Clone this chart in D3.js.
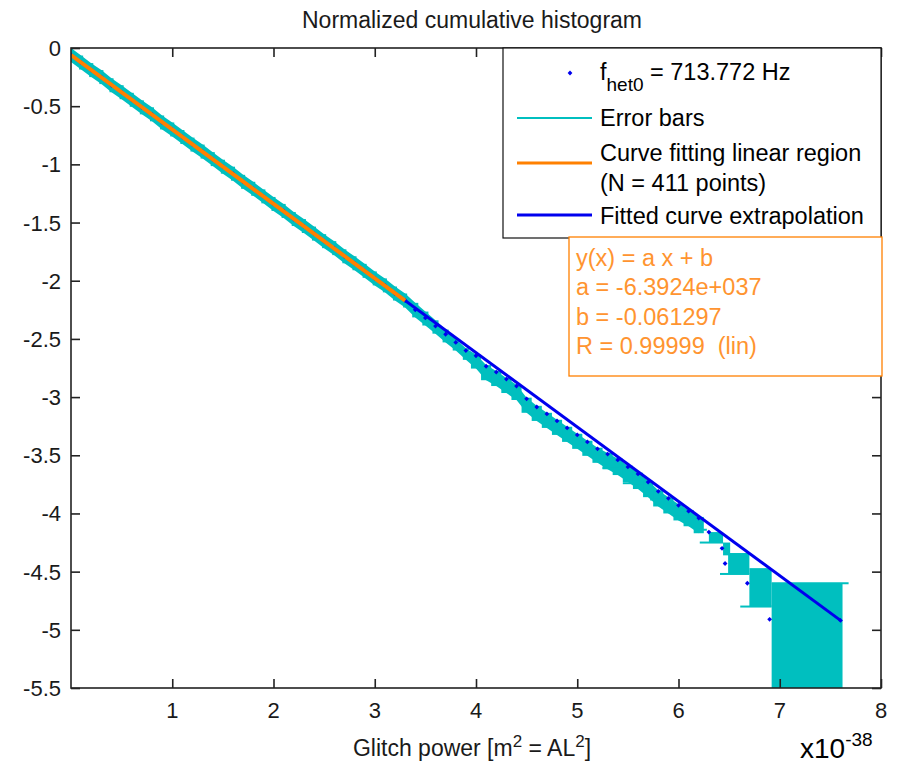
<!DOCTYPE html>
<html><head><meta charset="utf-8">
<script src="https://cdn.jsdelivr.net/npm/d3@7"></script>
<style>
body{margin:0;background:#fff}
svg{font-family:"Liberation Sans",Arial,sans-serif}
</style>
</head><body>
<svg id="chart" width="907" height="766"></svg>
<script>
// ---------- DATA (x in units of 1e-38 m^2) ----------
const xTicks = [1,2,3,4,5,6,7,8];
const yTicks = [0,-0.5,-1,-1.5,-2,-2.5,-3,-3.5,-4,-4.5,-5,-5.5];
const yTickLabels = ["0","-0.5","-1","-1.5","-2","-2.5","-3","-3.5","-4","-4.5","-5","-5.5"];

// data points (glitch power, log normalized cumulative count)
const pointX = [0.0,0.1,0.2,0.3,0.4,0.5,0.6,0.7,0.8,0.9,1.0,1.1,1.2,1.3,1.4,1.5,1.6,1.7,1.8,1.9,
  2.0,2.1,2.2,2.3,2.4,2.5,2.6,2.7,2.8,2.9,3.0,3.1,3.2,3.3,3.4,3.5,3.6,3.7,3.8,3.9,
  4.0,4.1,4.2,4.3,4.4,4.5,4.6,4.7,4.8,4.9,5.0,5.1,5.2,5.3,5.4,5.5,5.6,5.7,5.8,5.9,
  6.0,6.1,6.2,6.3,6.43,6.46,6.68,6.90];
const pointY = [-0.06,-0.125,-0.19,-0.25,-0.32,-0.38,-0.445,-0.51,-0.57,-0.64,-0.70,-0.765,-0.83,-0.89,-0.955,-1.02,-1.08,-1.15,-1.21,-1.275,
  -1.34,-1.40,-1.47,-1.53,-1.595,-1.66,-1.72,-1.79,-1.85,-1.915,-1.98,-2.04,-2.11,-2.17,-2.25,-2.32,-2.39,-2.46,-2.53,-2.60,
  -2.645,-2.735,-2.785,-2.845,-2.905,-3.015,-3.085,-3.145,-3.205,-3.265,-3.325,-3.385,-3.445,-3.49,-3.54,-3.60,-3.66,-3.73,-3.81,-3.87,
  -3.93,-3.98,-4.04,-4.16,-4.30,-4.43,-4.60,-4.91];
// error extents (left, right, down, up) for every point
const errLeft = [0.02,0.02,0.02,0.02,0.02,0.02,0.02,0.02,0.02,0.02,0.02,0.02,0.02,0.02,0.02,0.02,0.02,0.02,0.02,0.02,
  0.02,0.02,0.02,0.02,0.02,0.02,0.02,0.02,0.02,0.02,0.02,0.02,0.02,0.02,0.03,0.03,0.03,0.03,0.03,0.03,
  0.05,0.05,0.05,0.05,0.05,0.05,0.05,0.05,0.05,0.05,0.05,0.05,0.05,0.05,0.05,0.05,0.05,0.05,0.05,0.05,
  0.05,0.05,0.05,0.0,-0.01,-0.03,-0.02,-0.02];
const errRight = [0.02,0.02,0.02,0.02,0.02,0.02,0.02,0.02,0.02,0.02,0.02,0.02,0.02,0.02,0.02,0.02,0.02,0.02,0.02,0.02,
  0.02,0.02,0.02,0.02,0.02,0.02,0.02,0.02,0.02,0.02,0.02,0.02,0.02,0.02,0.03,0.03,0.03,0.03,0.03,0.03,
  0.05,0.05,0.05,0.05,0.05,0.05,0.05,0.05,0.05,0.05,0.05,0.05,0.05,0.05,0.05,0.05,0.05,0.05,0.05,0.05,
  0.05,0.05,0.05,0.14,0.08,0.24,0.24,0.72];
const errDown = [0.06,0.06,0.06,0.06,0.06,0.06,0.06,0.06,0.06,0.06,0.06,0.06,0.06,0.06,0.06,0.06,0.06,0.06,0.06,0.06,
  0.06,0.06,0.06,0.06,0.06,0.06,0.06,0.06,0.06,0.06,0.06,0.06,0.06,0.06,0.065,0.065,0.065,0.07,0.07,0.08,
  0.11,0.12,0.12,0.12,0.12,0.12,0.12,0.12,0.12,0.12,0.12,0.12,0.12,0.13,0.13,0.13,0.13,0.13,0.13,0.13,
  0.13,0.13,0.13,0.09,0.06,0.09,0.20,1.0];
const errUp = [0.06,0.06,0.06,0.06,0.06,0.06,0.06,0.06,0.06,0.06,0.06,0.06,0.06,0.06,0.06,0.06,0.06,0.06,0.06,0.06,
  0.06,0.06,0.06,0.06,0.06,0.06,0.06,0.06,0.06,0.06,0.06,0.06,0.06,0.06,0.06,0.055,0.05,0.04,0.03,0.02,
  0.01,0.01,0.01,0.01,0.01,0.01,0.01,0.01,0.01,0.01,0.01,0.01,0.01,0.01,0.01,0.01,0.01,0.01,0.01,0.01,
  0.01,0.01,0.01,0.0,0.05,0.09,0.13,0.31];
// error bar caps [x0, x1, y]
const capX0 = [5.25,5.45,5.72,5.95,6.21,6.21,6.41,6.61,6.92];
const capX1 = [5.42,5.65,5.89,6.08,6.28,6.44,6.70,6.92,7.68];
const capY  = [-3.61,-3.74,-3.88,-4.01,-4.14,-4.25,-4.52,-4.80,-4.60];

// fitted line y = a x + b  (endpoints)
const linearFitX = [0, 3.3];
const linearFitY = [-0.061, -2.171];
const extrapFitX = [0, 7.6];
const extrapFitY = [-0.061, -4.919];

const annotationLines = ["y(x) = a x + b","a = -6.3924e+037","b = -0.061297","R = 0.99999  (lin)"];

// ---------- CHART ----------
const svg = d3.select("#chart");
const L = 71, R = 881, T = 48, B = 688;
const x = d3.scaleLinear().domain([0, 8]).range([L, R]);
const y = d3.scaleLinear().domain([-5.5, 0]).range([B, T]);
const cyan = "#00bfbf", blue = "#0000ee", orange = "#ff8000", orangeTxt = "#ff9430", ink = "#1a1a1a";

svg.append("defs").append("clipPath").attr("id","clip")
  .append("rect").attr("x",L).attr("y",T).attr("width",R-L).attr("height",B-T);

const plot = svg.append("g").attr("clip-path","url(#clip)");
const idx = d3.range(pointX.length);
const denseIdx = idx.filter(i => i <= 62);

// continuous error band for the dense part of the data
plot.append("path").datum(denseIdx)
  .attr("d", d3.area().x(i => x(pointX[i])).y0(i => y(pointY[i]-errDown[i])).y1(i => y(pointY[i]+errUp[i])))
  .attr("fill", cyan);
// error boxes
plot.append("g").selectAll("rect").data(idx).join("rect")
  .attr("x", i => x(pointX[i]-errLeft[i]))
  .attr("width", i => x(pointX[i]+errRight[i]) - x(pointX[i]-errLeft[i]))
  .attr("y", i => y(pointY[i]+errUp[i]))
  .attr("height", i => y(pointY[i]-errDown[i]) - y(pointY[i]+errUp[i]))
  .attr("fill", cyan);
// caps
plot.append("g").selectAll("line").data(capY.map((v,i)=>i)).join("line")
  .attr("x1", i => x(capX0[i])).attr("x2", i => x(capX1[i]))
  .attr("y1", i => y(capY[i])).attr("y2", i => y(capY[i]))
  .attr("stroke", cyan).attr("stroke-width", 2);

// points (diamonds)
const dm = 2.4;
const diamondPath = `M0,${-dm}L${dm},0L0,${dm}L${-dm},0Z`;
plot.append("g").selectAll("path").data(idx).join("path")
  .attr("d", diamondPath)
  .attr("transform", i => `translate(${x(pointX[i])},${y(pointY[i])})`)
  .attr("fill", blue);

// fitted lines
const line = d3.line().x(d => x(d[0])).y(d => y(d[1]));
plot.append("path").datum(extrapFitX.map((v,i)=>[v, extrapFitY[i]]))
  .attr("d", line).attr("stroke", blue).attr("stroke-width", 3).attr("fill","none");
plot.append("path").datum(linearFitX.map((v,i)=>[v, linearFitY[i]]))
  .attr("d", line).attr("stroke", orange).attr("stroke-width", 4).attr("fill","none");
plot.append("path").attr("d", diamondPath)
  .attr("transform", `translate(${x(extrapFitX[1])},${y(extrapFitY[1])})`).attr("fill", blue);

// axes (box with inward ticks)
const tickLen = 9;
const axG = svg.append("g");
axG.append("rect").attr("x",L).attr("y",T).attr("width",R-L).attr("height",B-T)
  .attr("fill","none").attr("stroke","#222").attr("stroke-width",1.6);
const xb = d3.axisBottom(x).tickValues(xTicks).tickSizeInner(-tickLen).tickSizeOuter(0).tickFormat("");
const xt = d3.axisTop(x).tickValues(xTicks).tickSizeInner(-tickLen).tickSizeOuter(0).tickFormat("");
const yl = d3.axisLeft(y).tickValues(yTicks).tickSizeInner(-tickLen).tickSizeOuter(0).tickFormat("");
const yr = d3.axisRight(y).tickValues(yTicks).tickSizeInner(-tickLen).tickSizeOuter(0).tickFormat("");
[[xb,`translate(0,${B})`],[xt,`translate(0,${T})`],[yl,`translate(${L},0)`],[yr,`translate(${R},0)`]].forEach(([a,t])=>{
  const g = svg.append("g").attr("transform", t).call(a);
  g.select(".domain").remove();
  g.selectAll("line").attr("stroke","#222").attr("stroke-width",1.6);
});

// tick labels
svg.append("g").selectAll("text").data(xTicks).join("text")
  .attr("x", d => x(d)).attr("y", 718).attr("text-anchor","middle")
  .attr("font-size", 22).attr("fill", ink).text(d => d);
svg.append("g").selectAll("text").data(yTicks).join("text")
  .attr("x", 61).attr("y", d => y(d) + 8).attr("text-anchor","end")
  .attr("font-size", 22).attr("fill", ink).text((d,i) => yTickLabels[i]);

// title
svg.append("text").attr("x", 472).attr("y", 28).attr("text-anchor","middle")
  .attr("font-size", 23).attr("fill", ink).text("Normalized cumulative histogram");

// x label
const xl = svg.append("text").attr("x", 472).attr("y", 756).attr("text-anchor","middle")
  .attr("font-size", 23).attr("fill", ink);
xl.append("tspan").text("Glitch power [m");
xl.append("tspan").attr("dy",-9).attr("font-size",17).text("2");
xl.append("tspan").attr("dy",9).text(" = AL");
xl.append("tspan").attr("dy",-9).attr("font-size",17).text("2");
xl.append("tspan").attr("dy",9).text("]");

// exponent
const ex = svg.append("text").attr("x", 800).attr("y", 758).attr("font-size", 28).attr("fill", "#000");
ex.append("tspan").text("x10");
ex.append("tspan").attr("dy",-12).attr("font-size",19).text("-38");

// legend
const fs = 23.5;
const lg = svg.append("g");
lg.append("rect").attr("x",503).attr("y",48).attr("width",378).attr("height",190)
  .attr("fill","#fff").attr("stroke","#111").attr("stroke-width",1.2);
lg.append("path").attr("d", diamondPath).attr("transform","translate(570,73)").attr("fill", blue);
const t0 = lg.append("text").attr("x",600).attr("y",80).attr("font-size",fs).attr("fill","#000");
t0.append("tspan").text("f");
t0.append("tspan").attr("dy",11).attr("font-size",19).text("het0");
t0.append("tspan").attr("dy",-11).text(" = 713.772 Hz");
lg.append("line").attr("x1",517).attr("x2",592).attr("y1",118).attr("y2",118).attr("stroke",cyan).attr("stroke-width",2);
lg.append("text").attr("x",600).attr("y",126).attr("font-size",fs).attr("fill","#000").text("Error bars");
lg.append("line").attr("x1",517).attr("x2",592).attr("y1",163).attr("y2",163).attr("stroke",orange).attr("stroke-width",3);
lg.append("text").attr("x",600).attr("y",161).attr("font-size",fs).attr("fill","#000").text("Curve fitting linear region");
lg.append("text").attr("x",600).attr("y",191).attr("font-size",fs).attr("fill","#000").text("(N = 411 points)");
lg.append("line").attr("x1",517).attr("x2",592).attr("y1",215).attr("y2",215).attr("stroke",blue).attr("stroke-width",3);
lg.append("text").attr("x",600).attr("y",224).attr("font-size",fs).attr("fill","#000").text("Fitted curve extrapolation");

// annotation box
const an = svg.append("g");
an.append("rect").attr("x",569).attr("y",237).attr("width",313).attr("height",139)
  .attr("fill","#fff").attr("stroke",orange).attr("stroke-width",1.3);
an.selectAll("text").data(annotationLines).join("text")
  .attr("x",576).attr("y",(d,i)=>266 + i*29.3).attr("font-size",fs).attr("fill",orangeTxt)
  .style("white-space","pre").text(d=>d);
</script>
</body></html>
